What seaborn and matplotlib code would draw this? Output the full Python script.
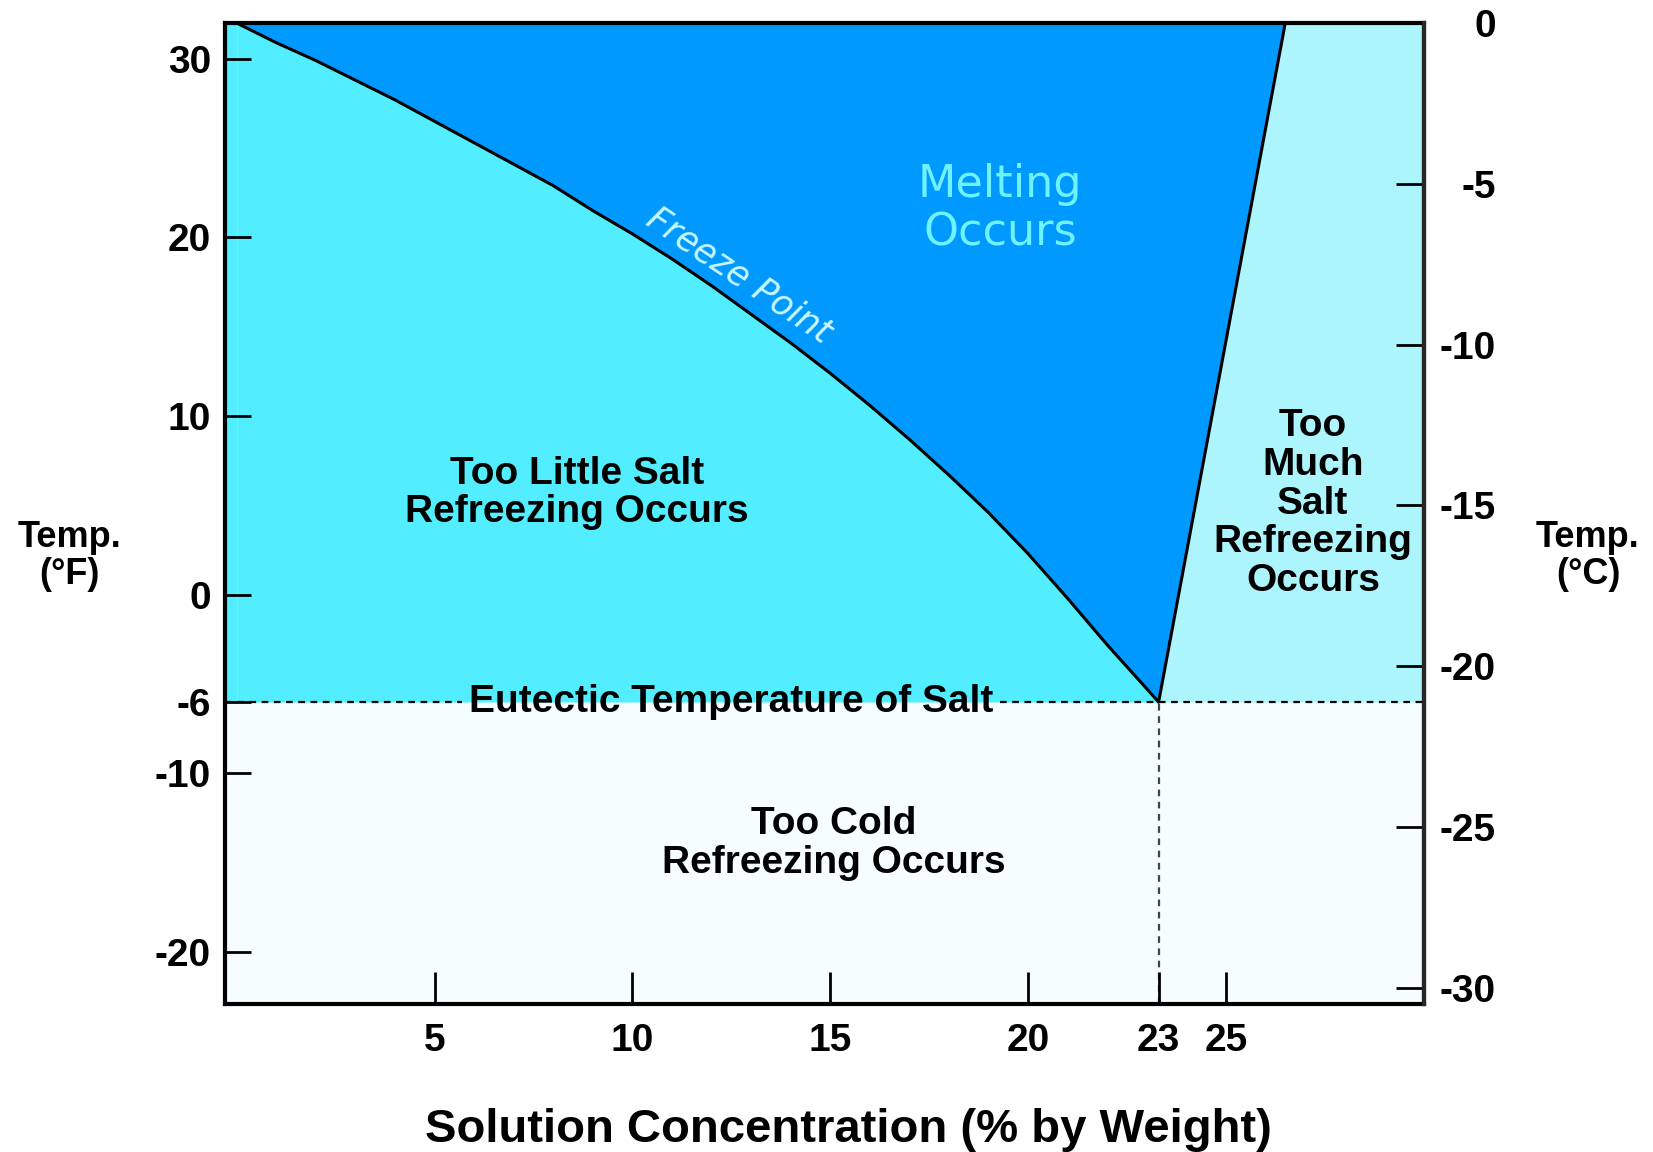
import numpy as np
import matplotlib
matplotlib.use('Agg')
import matplotlib.pyplot as plt
import seaborn as sns

# salt solution freeze chart data
conc = [0, 1, 2, 3, 4, 5, 6, 7, 8, 9, 10, 11, 12, 13, 14, 15, 16, 17, 18, 19, 20, 21, 22, 23.3]
freeze_f = [32, 30.9, 29.9, 28.8, 27.7, 26.5, 25.3, 24.1, 22.9, 21.5, 20.2, 18.8, 17.3,
            15.7, 14.1, 12.4, 10.6, 8.7, 6.7, 4.6, 2.3, -0.2, -2.8, -6]
sol_conc = [23.3, 26.5]   # too much salt boundary
sol_f = [-6, 32]
eutectic_f = -6
eutectic_conc = 23.3

x_ticks = [5, 10, 15, 20, 23.3, 25]
x_labels = ['5', '10', '15', '20', '23', '25']
f_ticks = [30, 20, 10, 0, -6, -10, -20]
c_ticks = [0, -5, -10, -15, -20, -25, -30]

sns.set_style('white')
plt.rcParams['font.family'] = ['Liberation Sans', 'DejaVu Sans']
plt.rcParams['text.color'] = 'black'
plt.rcParams['axes.labelcolor'] = 'black'
plt.rcParams['xtick.color'] = 'black'
plt.rcParams['ytick.color'] = 'black'

c_melt = '#0099ff'
c_little = '#52eeff'
c_much = '#adf5fd'
c_cold = '#f6fdfe'

fig = plt.figure(figsize=(16.53, 11.52), dpi=100)
ax = fig.add_axes([0.136, 0.1285, 0.7253, 0.8515])
ax.set_axisbelow(False)
xmin, xmax = -0.3, 30
ymin, ymax = -22.9, 32
ax.set_xlim(xmin, xmax)
ax.set_ylim(ymin, ymax)
ax.set_facecolor(c_cold)

# regions
ax.fill(np.r_[conc, sol_conc[1:]], np.r_[freeze_f, sol_f[1:]], color=c_melt, lw=0, zorder=1)
ax.fill_between(conc, eutectic_f, freeze_f, color=c_little, lw=0, zorder=1)
ax.fill_betweenx(sol_f, sol_conc, xmax, color=c_much, lw=0, zorder=1)
ax.fill_between([xmin, 0], eutectic_f, ymax, color=c_little, lw=0, zorder=1)

# boundary curves
sns.lineplot(x=conc, y=freeze_f, color='black', lw=2.2, ax=ax, zorder=3, sort=False)
sns.lineplot(x=sol_conc, y=sol_f, color='black', lw=2.2, ax=ax, zorder=3, sort=False)

# eutectic lines
ax.plot([xmin, 5.7], [eutectic_f, eutectic_f], color='black', lw=1.6, ls=(0, (3, 2.5)), zorder=2)
ax.plot([19.3, xmax], [eutectic_f, eutectic_f], color='black', lw=1.6, ls=(0, (3, 2.5)), zorder=2)
ax.plot([eutectic_conc, eutectic_conc], [ymin, eutectic_f], color='#444444', lw=1.6,
        ls=(0, (3, 2.5)), zorder=2)

bold = dict(fontweight='bold', color='black', ha='center', va='center', linespacing=1.1)
ax.text(12.5, eutectic_f, 'Eutectic Temperature of Salt', fontsize=28, zorder=4, **bold)
ax.text(8.6, 5.7, 'Too Little Salt\nRefreezing Occurs', fontsize=28, **bold)
ax.text(27.2, 5.1, 'Too\nMuch\nSalt\nRefreezing\nOccurs', fontsize=28, **bold)
ax.text(15.1, -13.9, 'Too Cold\nRefreezing Occurs', fontsize=28, **bold)
ax.text(19.3, 21.6, 'Melting\nOccurs', fontsize=32, color='#6ff2ff', ha='center',
        va='center', linespacing=1.15, family='DejaVu Sans')
ax.text(12.7, 17.9, 'Freeze Point', fontsize=25, color='#c8f8ff', style='italic',
        rotation=-34, ha='center', va='center', family='DejaVu Sans')

# axes style
for s in ax.spines.values():
    s.set_visible(True)
    s.set_color('black')
    s.set_linewidth(3)
    s.set_zorder(5)

ax.set_xticks(x_ticks, labels=x_labels, fontsize=28, fontweight='bold')
ax.set_yticks(f_ticks, labels=[str(v) for v in f_ticks], fontsize=28, fontweight='bold')
ax.tick_params(axis='x', bottom=True, direction='in', length=23, width=2, pad=14, color='black')
ax.tick_params(axis='y', left=True, direction='in', length=19, width=2, pad=10, color='black')

ax.set_xlabel('Solution Concentration (% by Weight)', fontsize=34, fontweight='bold')
ax.xaxis.set_label_coords(0.52, -0.106)
ax.set_ylabel('Temp.\n(°F)', fontsize=26, fontweight='bold', rotation=0,
              ha='center', va='center', linespacing=1.1)
ax.yaxis.set_label_coords(-0.1296, 0.4567)


def f2c(f):
    return (f - 32) * 5 / 9


def c2f(c):
    return c * 9 / 5 + 32


secax = ax.secondary_yaxis('right', functions=(f2c, c2f))
secax.set_zorder(6)
secax.set_yticks(c_ticks, labels=[str(v) for v in c_ticks], fontsize=28, fontweight='bold', ha='right')
secax.tick_params(right=True, direction='in', length=20, width=2, pad=52, color='black')
secax.spines['right'].set_linewidth(3)
ax.text(1.137, 0.4567, 'Temp.\n(°C)', transform=ax.transAxes, fontsize=26, fontweight='bold',
        ha='center', va='center', linespacing=1.1)

fig.savefig('out.png', dpi=100)
